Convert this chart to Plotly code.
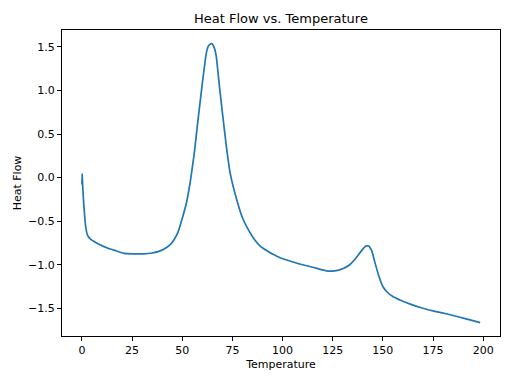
import plotly.graph_objects as go

temperature = [0, 0.1, 0.5, 1.0, 1.5, 2.0, 2.5, 3.0, 4.0, 6.5, 9, 13, 17, 21, 26, 31, 35, 38, 41, 44, 46, 48,
               50, 52, 54, 56, 58, 60, 62, 63, 64, 65, 66, 67, 68.5, 70, 72, 74, 77, 80, 83, 86, 89, 93, 98,
               104, 110, 116, 122, 126, 130, 133.5, 136, 138, 140, 141.5, 143, 144.5, 146, 148, 150, 152, 155,
               159, 164, 170, 176, 182, 188, 193, 198.5]
heat_flow = [-0.08, 0.04, -0.15, -0.33, -0.48, -0.58, -0.64, -0.67, -0.70, -0.74, -0.77, -0.81, -0.84, -0.87,
             -0.875, -0.875, -0.865, -0.85, -0.82, -0.77, -0.71, -0.62,
             -0.47, -0.30, -0.05, 0.28, 0.69, 1.08, 1.43, 1.51, 1.535, 1.535, 1.49, 1.39, 1.06, 0.75, 0.36,
             0.04, -0.24, -0.46, -0.60, -0.71, -0.79, -0.85, -0.91,
             -0.96, -1.00, -1.035, -1.07, -1.07, -1.045, -1.00, -0.94, -0.88, -0.82, -0.785, -0.785, -0.84,
             -0.97, -1.13, -1.25, -1.31, -1.365,
             -1.41, -1.455, -1.50, -1.535, -1.565, -1.60, -1.63, -1.665]

x_ticks = [0, 25, 50, 75, 100, 125, 150, 175, 200]
y_ticks = [-1.5, -1.0, -0.5, 0.0, 0.5, 1.0, 1.5]

fig = go.Figure()
fig.add_trace(go.Scatter(x=temperature, y=heat_flow, mode="lines",
                         line=dict(color="#1f77b4", width=1.7, shape="spline", smoothing=0.3)))

axis_common = dict(showline=True, linecolor="black", linewidth=1, mirror=True,
                   ticks="outside", ticklen=4, tickwidth=1, tickcolor="black",
                   showgrid=False, zeroline=False, automargin=False,
                   tickfont=dict(family="DejaVu Sans", size=11, color="black"))

fig.update_layout(
    width=512, height=384,
    margin=dict(l=62, r=12, t=30, b=48),
    paper_bgcolor="white", plot_bgcolor="white",
    showlegend=False,
    font=dict(family="DejaVu Sans", size=11, color="black"),
    title=dict(text="Heat Flow vs. Temperature", x=0.5, xanchor="center", xref="paper",
               y=1 - 18 / 384, yanchor="middle", yref="container", automargin=False,
               font=dict(family="DejaVu Sans", size=13, color="black")),
)
fig.update_xaxes(range=[-9.93, 208.4], tickvals=x_ticks,
                 title=dict(text="Temperature", standoff=4,
                            font=dict(family="DejaVu Sans", size=11, color="black")),
                 **axis_common)
fig.update_yaxes(range=[-1.818, 1.695], tickvals=y_ticks, tickformat=".1f",
                 title=dict(text="Heat Flow", standoff=4,
                            font=dict(family="DejaVu Sans", size=11, color="black")),
                 **axis_common)

fig.write_html("out.html", config={"displayModeBar": False},
               post_script="document.body.style.margin='0';")
